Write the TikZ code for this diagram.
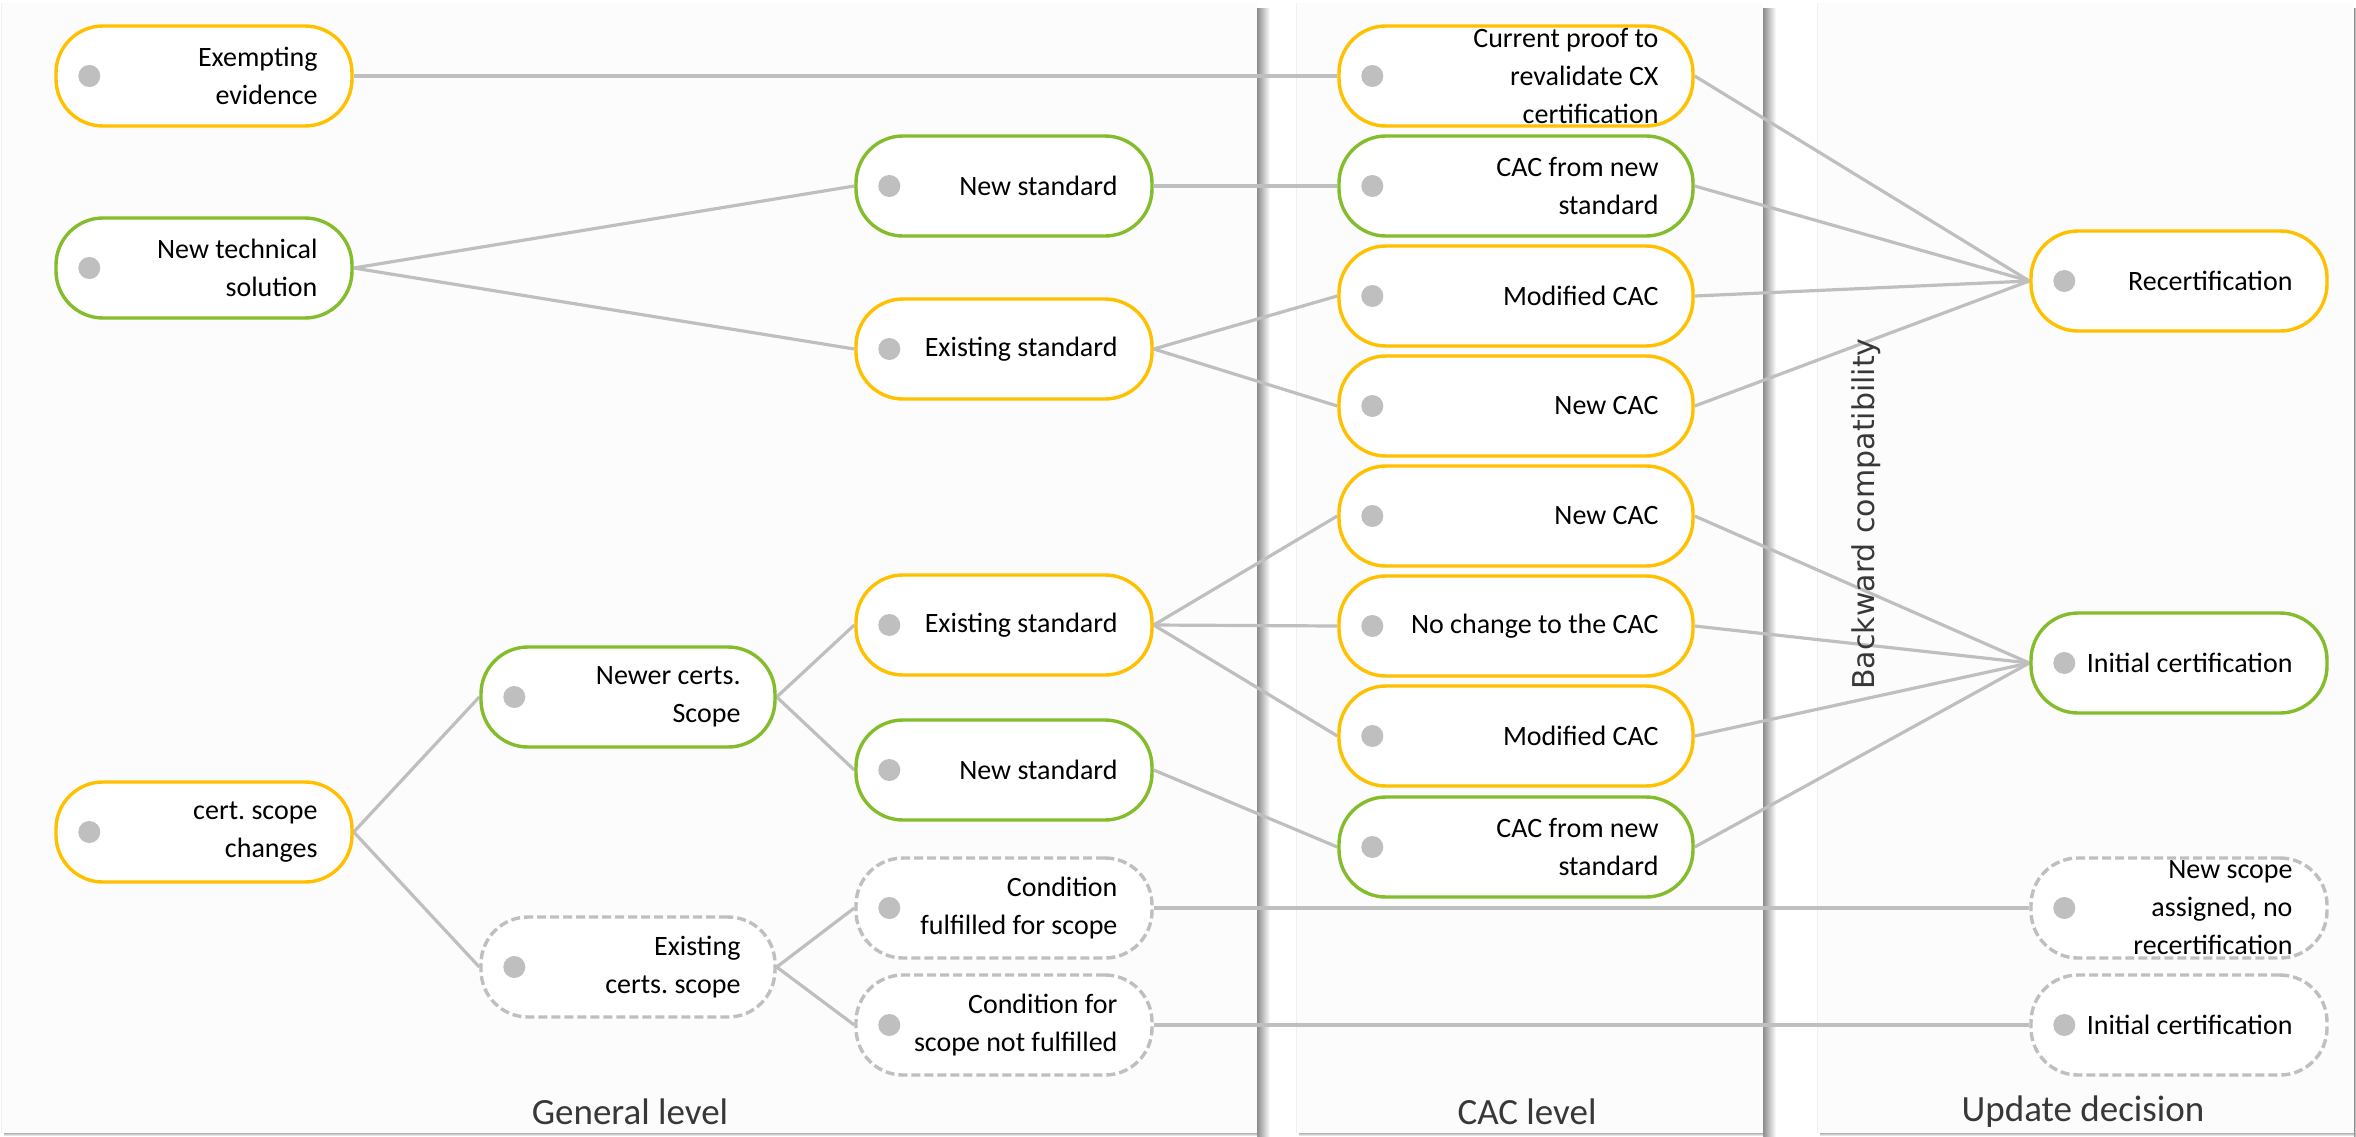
\documentclass[tikz,border=0pt]{standalone}
\usepackage{fontspec}
\setmainfont{Carlito}
\newfontfamily\bcfamily{DejaVu Sans}
\frenchspacing
\definecolor{cyel}{HTML}{FFC000}
\definecolor{cgrn}{HTML}{84BC2C}
\definecolor{cgray}{HTML}{BFBFBF}
\definecolor{cpanel}{HTML}{FCFCFC}
\definecolor{clab}{HTML}{383838}
\pgfdeclarelayer{panels}
\pgfdeclarelayer{wires}
\pgfsetlayers{panels,wires,main}
\tikzset{
  box/.style={rectangle, rounded corners=47pt, minimum width=296pt, minimum height=100pt,
    inner sep=0pt, fill=white, line width=3.4pt},
  yel/.style={box, draw=cyel},
  grn/.style={box, draw=cgrn},
  dsh/.style={box, draw=cgray, dash pattern=on 9pt off 4pt},
  wide/.style={minimum width=354pt},
  tlab/.style={anchor=east, xshift=-36pt, inner sep=0pt, align=right, draw=none, fill=none,
    text=black, font=\fontsize{28}{38}\selectfont},
  gdot/.style={circle, fill=cgray, draw=none, minimum size=22pt, inner sep=0pt,
    anchor=center, xshift=35pt},
  t/.style={label={[tlab]east:{#1}}, label={[gdot]west:{}}},
  conn/.style={draw=cgray, line width=3.2pt},
  panel/.style={fill=cpanel, draw=none},
  bottomlab/.style={font=\fontsize{37}{40}\selectfont, text=clab, inner sep=0pt},
}
\begin{document}
\begin{tikzpicture}[x=1pt,y=-1pt]
\useasboundingbox (0,0) rectangle (2356,1136);

% ---- panels
\begin{pgfonlayer}{panels}
  \fill[white] (0,0) rectangle (2356,1136);
  \fill[panel] (1,3) rectangle (1257,1133);
  \fill[panel] (1296,3) rectangle (1763,1133);
  \fill[panel] (1817,3) rectangle (2354,1133);
  \draw[black!6, line width=1pt] (1296,3) -- (1296,1133);
  \draw[black!6, line width=1pt] (1817,3) -- (1817,1133);
  \draw[black!6, line width=1pt] (1,3) -- (1,1133);
  \shade[left color=black!45, right color=white] (1257,8) rectangle (1270,1136);
  \shade[left color=black!45, right color=white] (1763,8) rectangle (1776,1136);
  \shade[left color=black!45, right color=white] (2354,8) rectangle (2356,1136);
  \shade[top color=black!30, bottom color=white] (4,1133) rectangle (1257,1136);
  \shade[top color=black!30, bottom color=white] (1299,1133) rectangle (1763,1136);
  \shade[top color=black!30, bottom color=white] (1820,1133) rectangle (2354,1136);
\end{pgfonlayer}

% ---- column 1
\node[yel, t={Exempting\\evidence}] (ex) at (204,76) {};
\node[grn, t={New technical\\solution}] (nts) at (204,268) {};
\node[yel, t={cert. scope\\changes}] (csc) at (204,832) {};

% ---- column 2
\node[grn, minimum width=294pt, t={Newer certs.\\Scope}] (ncs) at (628,697) {};
\node[dsh, minimum width=294pt, t={Existing\\certs. scope}] (ecs) at (628,967) {};

% ---- column 3
\node[grn, t={New standard}] (nsA) at (1004,186) {};
\node[yel, t={Existing standard}] (esA) at (1004,349) {};
\node[yel, t={Existing standard}] (esB) at (1004,625) {};
\node[grn, t={New standard}] (nsB) at (1004,770) {};
\node[dsh, t={Condition\\fulfilled for scope}] (cf) at (1004,908) {};
\node[dsh, t={Condition for\\scope not fulfilled}] (cnf) at (1004,1025) {};

% ---- column 4 (CAC level)
\node[yel, wide, t={Current proof to\\revalidate CX\\certification}] (cp) at (1516,76) {};
\node[grn, wide, t={CAC from new\\standard}] (cnA) at (1516,186) {};
\node[yel, wide, t={Modified CAC}] (mcA) at (1516,296) {};
\node[yel, wide, t={New CAC}] (ncA) at (1516,406) {};
\node[yel, wide, t={New CAC}] (ncB) at (1516,516) {};
\node[yel, wide, t={No change to the CAC}] (nch) at (1516,626) {};
\node[yel, wide, t={Modified CAC}] (mcB) at (1516,736) {};
\node[grn, wide, t={CAC from new\\standard}] (cnB) at (1516,847) {};

% ---- column 5 (update decision)
\node[yel, t={Recertification}] (rc) at (2179,281) {};
\node[grn, t={Initial certification}] (ic) at (2179,663) {};
\node[dsh, t={New scope\\assigned, no\\recertification}] (nsa) at (2179,908) {};
\node[dsh, t={Initial certification}] (icB) at (2179,1025) {};

% ---- panel captions
\node[bottomlab] (gl) at (630,1112) {General level};
\node[bottomlab] (cl) at (1527,1112) {CAC level};
\node[bottomlab] (ud) at (2083,1112) {Update decision};
\node[rotate=90, inner sep=0pt, text=clab, font=\bcfamily\fontsize{30}{36}\selectfont] (bc) at (1866,514) {Backward compatibility};

% ---- connectors
\begin{pgfonlayer}{wires}
  \draw[conn] (ex.east) -- (cp.west);
  \draw[conn] (nts.east) -- (nsA.west);
  \draw[conn] (nts.east) -- (esA.west);
  \draw[conn] (nsA.east) -- (cnA.west);
  \draw[conn] (esA.east) -- (mcA.west);
  \draw[conn] (esA.east) -- (ncA.west);
  \draw[conn] (cp.east) -- (rc.west);
  \draw[conn] (cnA.east) -- (rc.west);
  \draw[conn] (mcA.east) -- (rc.west);
  \draw[conn] (ncA.east) -- (rc.west);
  \draw[conn] (csc.east) -- (ncs.west);
  \draw[conn] (csc.east) -- (ecs.west);
  \draw[conn] (ncs.east) -- (esB.west);
  \draw[conn] (ncs.east) -- (nsB.west);
  \draw[conn] (esB.east) -- (ncB.west);
  \draw[conn] (esB.east) -- (nch.west);
  \draw[conn] (esB.east) -- (mcB.west);
  \draw[conn] (nsB.east) -- (cnB.west);
  \draw[conn] (ncB.east) -- (ic.west);
  \draw[conn] (nch.east) -- (ic.west);
  \draw[conn] (mcB.east) -- (ic.west);
  \draw[conn] (cnB.east) -- (ic.west);
  \draw[conn] (ecs.east) -- (cf.west);
  \draw[conn] (ecs.east) -- (cnf.west);
  \draw[conn] (cf.east) -- (nsa.west);
  \draw[conn] (cnf.east) -- (icB.west);
\end{pgfonlayer}
\end{tikzpicture}
\end{document}
